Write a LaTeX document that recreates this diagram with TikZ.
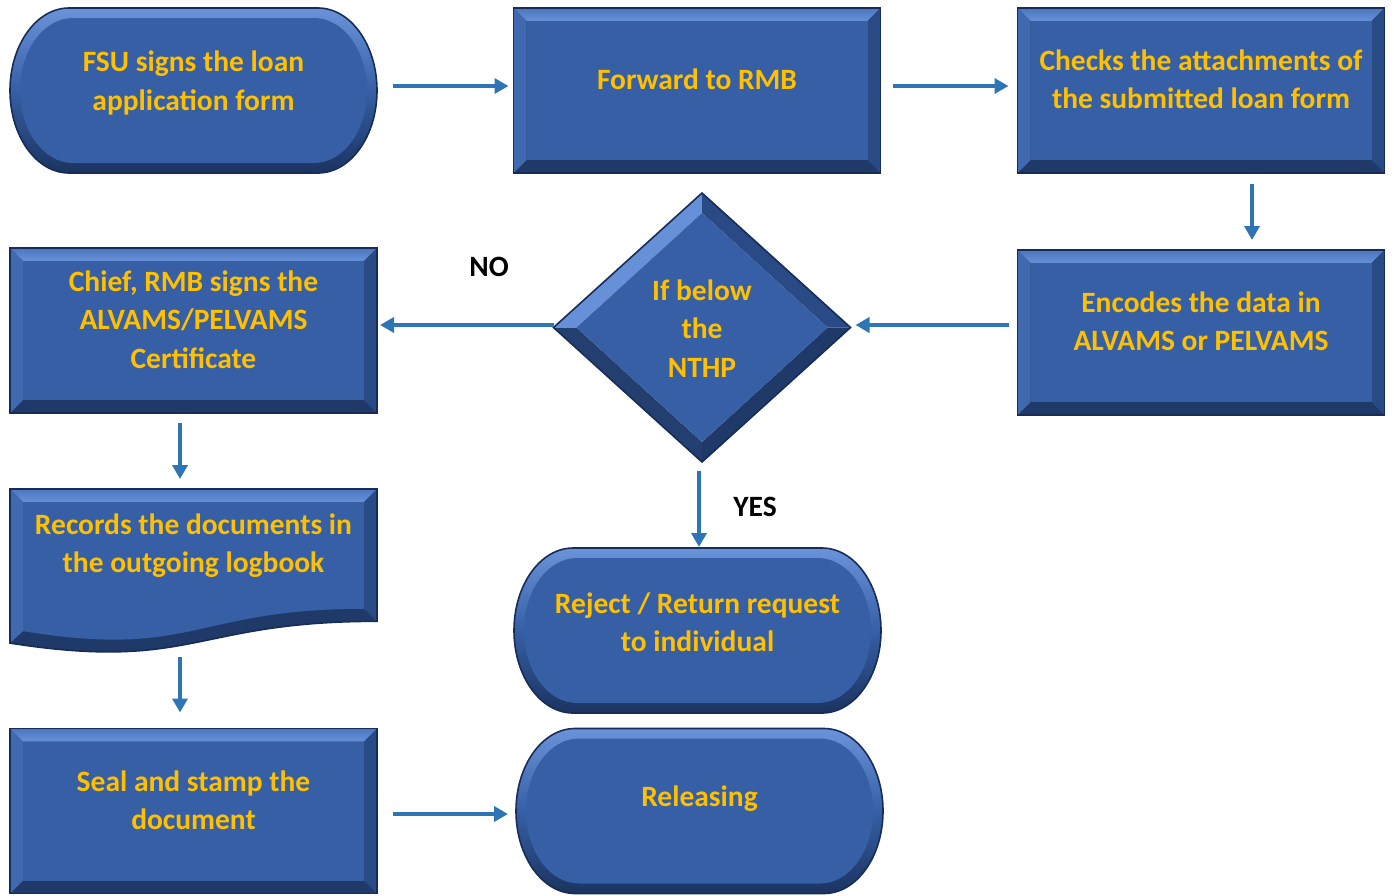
\documentclass[tikz,border=0pt]{standalone}
\usepackage{fontspec}
\setmainfont{Carlito}
\usetikzlibrary{arrows.meta,calc}

\definecolor{face}{HTML}{365FA5}
\definecolor{bvtopA}{HTML}{4C76BE}
\definecolor{bvtopB}{HTML}{6690D8}
\definecolor{bvleft}{HTML}{4169B0}
\definecolor{bvright}{HTML}{294A84}
\definecolor{bvbot}{HTML}{1F3A69}
\definecolor{bvline}{HTML}{172C56}
\definecolor{tlight}{HTML}{6A93DA}
\definecolor{tdark}{HTML}{1B3360}
\definecolor{gold}{HTML}{FFC000}
\definecolor{arrowblue}{HTML}{2E75B6}

% bevelled process box, 367 x 165
\newcommand\bevbox[1]{%
  \begin{scope}[shift={(#1.center)}]
    \fill[bvbot] (-183.5,-82.5) rectangle (183.5,82.5);
    \shade[top color=bvtopA, bottom color=bvtopB]
      (-183.5,-82.5) -- (183.5,-82.5) -- (170.5,-69.5) -- (-170.5,-69.5) -- cycle;
    \fill[bvleft] (-183.5,-82.5) -- (-170.5,-69.5) -- (-170.5,69.5) -- (-183.5,82.5) -- cycle;
    \fill[bvright] (183.5,-82.5) -- (183.5,82.5) -- (170.5,69.5) -- (170.5,-69.5) -- cycle;
    \fill[face] (-170.5,-69.5) rectangle (170.5,69.5);
    \draw[bvline, line width=1.6pt] (-183.5,-82.5) rectangle (183.5,82.5);
  \end{scope}}

% terminator outline: half widths #1, #2, cap radius #3, path options #4
\newcommand\termpath[4]{%
  \pgfmathsetmacro\tcx{#1-#3}%
  \pgfmathsetmacro\tkx{0.5523*#3}%
  \pgfmathsetmacro\tky{0.5523*#2}%
  \pgfmathsetmacro\tcxk{\tcx+\tkx}%
  \path[#4] (\tcx,-#2) .. controls (\tcxk,-#2) and (#1,-\tky) .. (#1,0)
    .. controls (#1,\tky) and (\tcxk,#2) .. (\tcx,#2)
    -- (-\tcx,#2) .. controls (-\tcxk,#2) and (-#1,\tky) .. (-#1,0)
    .. controls (-#1,-\tky) and (-\tcxk,-#2) .. (-\tcx,-#2) -- cycle;}

\newcommand\bevterm[1]{%
  \begin{scope}[shift={(#1.center)}]
    \termpath{183.5}{82.5}{59}{top color=tlight, bottom color=tdark, middle color=face}
    \termpath{173.5}{72.5}{53}{fill=face}
    \termpath{183.5}{82.5}{59}{draw=bvline, line width=1.6pt}
  \end{scope}}

% decision diamond, half sizes 148.5 x 134.5
\newcommand\bevdiamond[1]{%
  \begin{scope}[shift={(#1.center)}]
    \fill[bvtopB] (-148.5,0) -- (0,-134.5) -- (0,-114.5) -- (-125.5,0) -- cycle;
    \fill[bvright] (0,-134.5) -- (148.5,0) -- (125.5,0) -- (0,-114.5) -- cycle;
    \fill[bvbot] (148.5,0) -- (0,134.5) -- (0,114.5) -- (125.5,0) -- cycle;
    \fill[bvright!85!black] (0,134.5) -- (-148.5,0) -- (-125.5,0) -- (0,114.5) -- cycle;
    \fill[face] (-125.5,0) -- (0,-114.5) -- (125.5,0) -- (0,114.5) -- cycle;
    \draw[bvline, line width=1.6pt] (-148.5,0) -- (0,-134.5) -- (148.5,0) -- (0,134.5) -- cycle;
  \end{scope}}

% document shape with wavy lower edge
\newcommand\bevdoc[1]{%
  \begin{scope}[shift={(#1.center)}]
    \fill[bvbot] (-183.5,-82.5) -- (183.5,-82.5) -- (183.5,49.8)
      .. controls (0,49.8) and (0,100.2) .. (-183.5,71.6) -- cycle;
    \shade[top color=bvtopA, bottom color=bvtopB]
      (-183.5,-82.5) -- (183.5,-82.5) -- (170.5,-69.5) -- (-170.5,-69.5) -- cycle;
    \fill[bvleft] (-183.5,-82.5) -- (-170.5,-69.5) -- (-170.5,59.6) -- (-183.5,71.6) -- cycle;
    \fill[bvright] (183.5,-82.5) -- (183.5,49.8) -- (170.5,37.3) -- (170.5,-69.5) -- cycle;
    \fill[face] (-170.5,-69.5) -- (170.5,-69.5) -- (170.5,37.3)
      .. controls (0,37.3) and (0,87.7) .. (-170.5,59.6) -- cycle;
    \draw[bvline, line width=1.6pt] (-183.5,-82.5) -- (183.5,-82.5) -- (183.5,49.8)
      .. controls (0,49.8) and (0,100.2) .. (-183.5,71.6) -- cycle;
  \end{scope}}

\begin{document}
\begin{tikzpicture}[x=1pt, y=-1pt,
  shapebox/.style={inner sep=0pt, outer sep=0pt, minimum width=367pt, minimum height=165pt},
  decisionbox/.style={inner sep=0pt, outer sep=0pt, minimum width=297pt, minimum height=269pt},
  lbl/.style={font=\bfseries\fontsize{29.5}{38.5}\selectfont, text=gold, align=center, inner sep=0pt},
  note/.style={font=\bfseries\fontsize{29.5}{34}\selectfont, text=black, inner sep=0pt},
  arr/.style={draw=arrowblue, line width=4.2pt, -{Triangle[length=14pt,width=15pt]}}]

\useasboundingbox (0,0) rectangle (1394,895);

% shape frames
\node[shapebox] (fsu) at (193.5,90.5) {};
\node[shapebox] (fwd) at (697,90.5) {};
\node[shapebox] (chk) at (1201,90.5) {};
\node[shapebox] (enc) at (1201,332.5) {};
\node[decisionbox] (dia) at (702,327.5) {};
\node[shapebox] (chief) at (193.5,330.5) {};
\node[shapebox] (rec) at (193.5,571.5) {};
\node[shapebox] (seal) at (193.5,811) {};
\node[shapebox] (rej) at (697.5,630.5) {};
\node[shapebox] (rel) at (699.5,811) {};

\bevterm{fsu}
\bevbox{fwd}
\bevbox{chk}
\bevbox{enc}
\bevdiamond{dia}
\bevbox{chief}
\bevdoc{rec}
\bevbox{seal}
\bevterm{rej}
\bevterm{rel}

% labels
\node[lbl] (fsut) at (193.5,83) {FSU signs the loan\\application form};
\node[lbl] (fwdt) at (697,79.5) {Forward to RMB};
\node[lbl] (chkt) at (1201,79.5) {Checks the attachments of\\the submitted loan form};
\node[lbl] (enct) at (1201,321) {Encodes the data in\\ALVAMS or PELVAMS};
\node[lbl] (diat) at (702,328.5) {If below\\the\\NTHP};
\node[lbl] (chieft) at (193.5,319.5) {Chief, RMB signs the\\ALVAMS/PELVAMS\\Certificate};
\node[lbl] (rect) at (193.5,545.5) {Records the documents in\\the outgoing logbook};
\node[lbl] (sealt) at (193.5,800) {Seal and stamp the\\document};
\node[lbl] (rejt) at (697.5,622) {Reject / Return request\\to individual};
\node[lbl] (relt) at (699.5,799) {Releasing};

\node[note] (no) at (489,267) {NO};
\node[note] (yes) at (755,507) {YES};

% connectors
\draw[arr, shorten <=16pt, shorten >=5pt] ([yshift=4.5pt]fsu.east) -- ([yshift=4.5pt]fwd.west);
\draw[arr, shorten <=12pt, shorten >=9pt] ([yshift=4.5pt]fwd.east) -- ([yshift=4.5pt]chk.west);
\draw[arr, shorten <=11pt, shorten >=10pt] ([xshift=51pt]chk.south) -- ([xshift=51pt]enc.north);
\draw[arr, shorten <=9pt, shorten >=5pt] ([yshift=7.5pt]enc.west) -- ([yshift=2.5pt]dia.east);
\draw[arr, shorten >=3pt] ([yshift=2.5pt]dia.west) -- ([yshift=5.5pt]chief.east);
\draw[arr, shorten <=10pt, shorten >=10pt] ([xshift=-13.5pt]chief.south) -- ([xshift=-13.5pt]rec.north);
\draw[arr, shorten <=3pt, shorten >=16pt] ([xshift=-13.5pt]rec.south) -- ([xshift=-13.5pt]seal.north);
\draw[arr, shorten <=9pt, shorten >=1pt] ([xshift=-3pt]dia.south) -- ([xshift=1.5pt]rej.north);
\draw[arr, shorten <=16pt, shorten >=8pt] ([yshift=-3pt]seal.east) -- ([yshift=-3pt]rel.west);

\end{tikzpicture}
\end{document}
